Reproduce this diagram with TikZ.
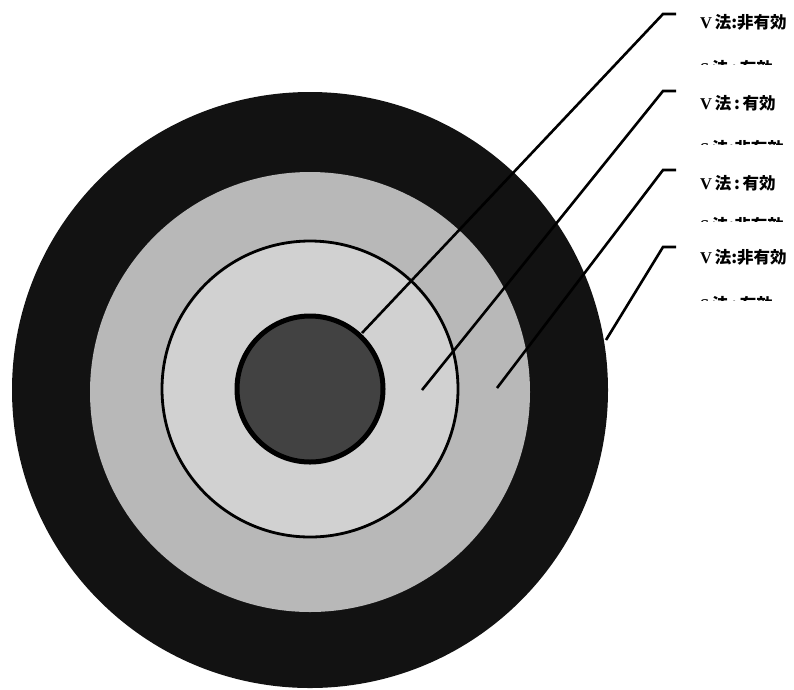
\documentclass[tikz,border=0pt]{standalone}
\usepackage{fontspec}
\newfontfamily\cjk{Noto Sans CJK JP}
\newfontfamily\vfont{Liberation Serif}
\tikzset{
  lab/.style={anchor=west, inner sep=0pt, font=\fontsize{16.5}{16.5}\selectfont},
  leader/.style={line width=2.6pt, line join=miter},
}
\begin{document}
\begin{tikzpicture}[x=1pt,y=-1pt]
\useasboundingbox (0,0) rectangle (794,689);
% rings
\fill[black!93] (310,390) circle[radius=298];
\fill[black!28] (310,392) circle[radius=220];
\fill[black!18] (310,389) circle[radius=148];
\draw[line width=2.8pt] (310,389) circle[radius=148];
\fill[black!74] (310,389) circle[radius=73];
\draw[line width=5pt] (310,389) circle[radius=73];
% leaders
\coordinate (a0) at (362,333); \coordinate (a1) at (663,14);  \coordinate (a2) at (676,14);
\coordinate (b0) at (422,390); \coordinate (b1) at (663,91);  \coordinate (b2) at (676,91);
\coordinate (c0) at (497,388); \coordinate (c1) at (663,170); \coordinate (c2) at (676,170);
\coordinate (d0) at (606,340); \coordinate (d1) at (663,247); \coordinate (d2) at (676,247);
\draw[leader] (a0) -- (a1) -- (a2);
\draw[leader] (b0) -- (b1) -- (b2);
\draw[leader] (c0) -- (c1) -- (c2);
\draw[leader] (d0) -- (d1) -- (d2);
% labels
\node[lab] (l1) at (700,22)  {{\vfont\bfseries V}\,{\cjk\bfseries 法:非有効}};
\node[lab] (l2) at (700,103) {{\vfont\bfseries V}\,{\cjk\bfseries 法\,:\,有効}};
\node[lab] (l3) at (700,183) {{\vfont\bfseries V}\,{\cjk\bfseries 法\,:\,有効}};
\node[lab] (l4) at (700,257) {{\vfont\bfseries V}\,{\cjk\bfseries 法:非有効}};
% partially printed lines
\begin{scope}
\clip (695,59) rectangle (794,64);
\node[lab] (p1) at (700,68) {{\vfont\bfseries S}\,{\cjk\bfseries 法\,:\,有効}};
\end{scope}
\begin{scope}
\clip (695,139) rectangle (794,144);
\node[lab] (p2) at (700,148) {{\vfont\bfseries S}\,{\cjk\bfseries 法:非有効}};
\end{scope}
\begin{scope}
\clip (695,216) rectangle (794,221);
\node[lab] (p3) at (700,225) {{\vfont\bfseries S}\,{\cjk\bfseries 法:非有効}};
\end{scope}
\begin{scope}
\clip (695,295) rectangle (794,300);
\node[lab] (p4) at (700,304) {{\vfont\bfseries S}\,{\cjk\bfseries 法\,:\,有効}};
\end{scope}
\end{tikzpicture}
\end{document}
